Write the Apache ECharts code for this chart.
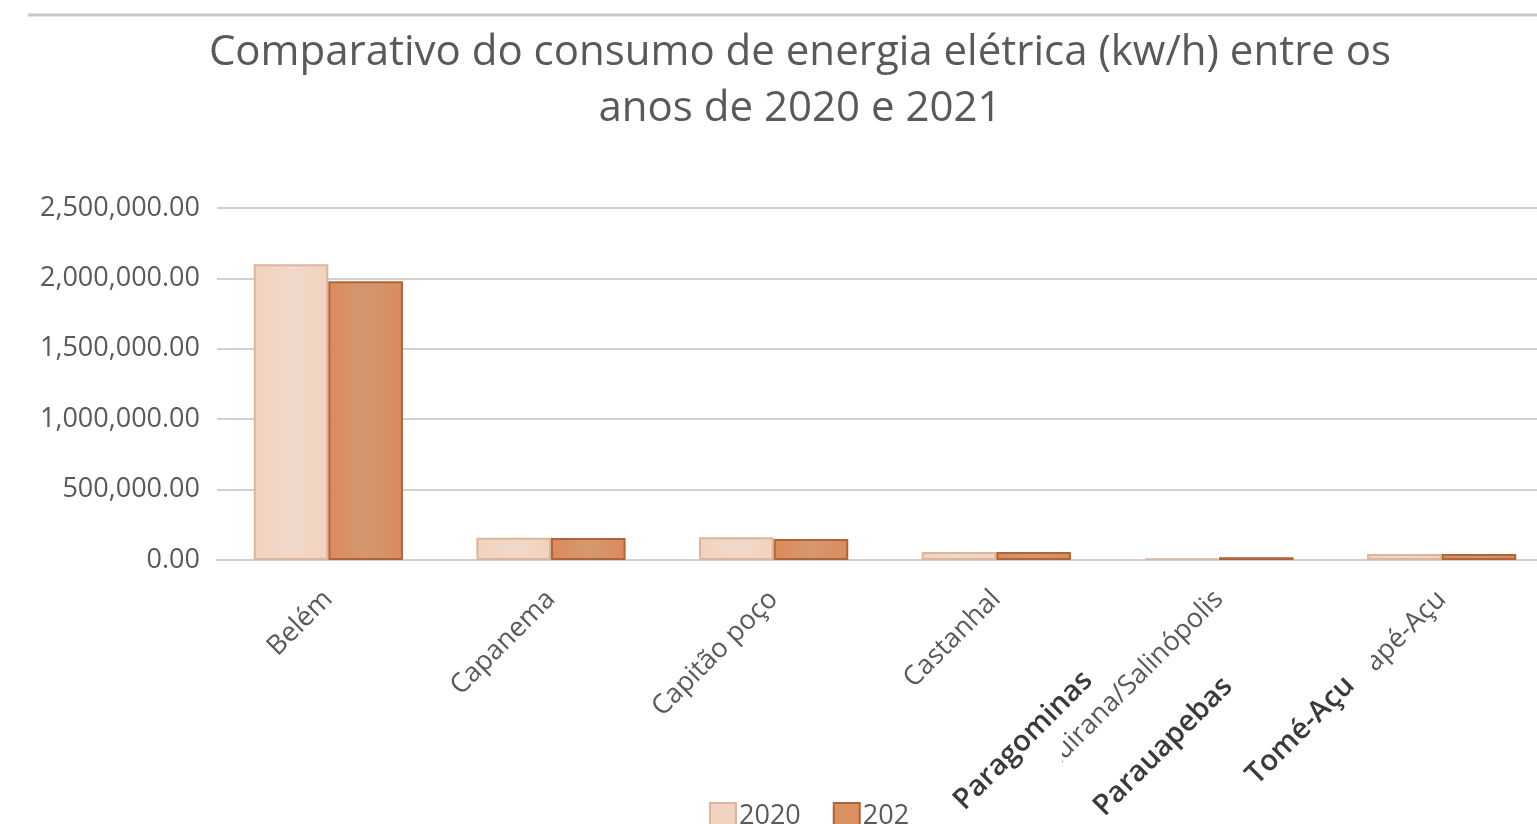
<!DOCTYPE html>
<html>
<head>
<meta charset="utf-8">
<script src="https://cdn.jsdelivr.net/npm/echarts@6/dist/echarts.min.js"></script>
<style>
html,body{margin:0;padding:0;background:#fff;overflow:hidden;width:1537px;height:824px;}
#chart{width:1553px;height:824px;}
</style>
</head>
<body>
<div id="chart"></div>
<script>
var categories = ['Belém', 'Capanema', 'Capitão poço', 'Castanhal', 'Cuirana/Salinópolis', 'Igarapé-Açu'];
var values2020 = [2100000, 158000, 162000, 57000, 12000, 43000];
var values2021 = [1980000, 156000, 150000, 57000, 20000, 43000];
var seriesNames = ['2020', '2021'];
var yTicks = [0, 500000, 1000000, 1500000, 2000000, 2500000];
var overlayLabels = ['Paragominas', 'Parauapebas', 'Tomé-Açu'];
var titleText = 'Comparativo do consumo de energia elétrica (kw/h) entre os\nanos de 2020 e 2021';

var FONT = 'Open Sans';
var GREY = '#595959';

function fmt(v) {
  return v.toLocaleString('en-US', {minimumFractionDigits: 2, maximumFractionDigits: 2});
}

var chart = echarts.init(document.getElementById('chart'));

var c2020 = new echarts.graphic.LinearGradient(0, 0, 1, 0, [
  {offset: 0, color: '#f3d2bd'}, {offset: 0.5, color: '#f0d9cb'}, {offset: 1, color: '#f3d2bd'}
]);
var c2021 = new echarts.graphic.LinearGradient(0, 0, 1, 0, [
  {offset: 0, color: '#dc8a5a'}, {offset: 0.5, color: '#d49872'}, {offset: 1, color: '#dc8a5a'}
]);

var option = {
  backgroundColor: '#ffffff',
  animation: false,
  title: {
    text: titleText,
    left: 795,
    top: 20,
    textAlign: 'center',
    textStyle: {fontFamily: FONT, fontSize: 42, fontWeight: 'normal', color: GREY, lineHeight: 56}
  },
  legend: {
    data: [
      {name: seriesNames[0], itemStyle: {color: '#f2d3bf', borderColor: '#dbb59c', borderWidth: 2}},
      {name: seriesNames[1], itemStyle: {color: '#d8915f', borderColor: '#b0643a', borderWidth: 2}}
    ],
    left: 704,
    top: 797,
    itemWidth: 26,
    itemHeight: 26,
    itemGap: 32,
    icon: 'rect',
    textStyle: {fontFamily: FONT, fontSize: 27, color: GREY, padding: [0, 0, 0, -2]}
  },
  grid: {left: 217, right: 0, top: 208, height: 352, containLabel: false},
  xAxis: {
    type: 'category',
    data: categories,
    axisLine: {lineStyle: {color: '#d0d0d0', width: 2}},
    axisTick: {show: false},
    axisLabel: {
      rotate: 45, margin: 35, interval: 0,
      fontFamily: FONT, fontSize: 27, color: GREY
    }
  },
  yAxis: {
    type: 'value',
    min: yTicks[0],
    max: yTicks[yTicks.length - 1],
    interval: yTicks[1] - yTicks[0],
    axisLine: {show: false},
    axisTick: {show: false},
    splitLine: {lineStyle: {color: '#d0d0d0', width: 2}},
    axisLabel: {
      margin: 17,
      fontFamily: FONT, fontSize: 27, color: GREY,
      formatter: function (v) { return fmt(v); }
    }
  },
  series: [
    {
      name: seriesNames[0], type: 'bar', data: values2020,
      barGap: '0%', barCategoryGap: '33%',
      itemStyle: {color: c2020, borderColor: '#dbb59c', borderWidth: 2}
    },
    {
      name: seriesNames[1], type: 'bar', data: values2021,
      itemStyle: {color: c2021, borderColor: '#b0643a', borderWidth: 2}
    }
  ]
};
chart.setOption(option);

// decorative overlays: top rule, pasted label patches
var overlayStyle = {fontFamily: FONT, fontSize: 29, fontWeight: 600, fill: '#3a3a3a', align: 'right', verticalAlign: 'middle'};
var overlayPos = [[1088, 676], [1228, 682], [1350, 681]];
chart.setOption({
  graphic: [
    {type: 'line', shape: {x1: 28, y1: 15, x2: 1553, y2: 15}, style: {stroke: '#c8c8c8', lineWidth: 3}, z: 100},
    {type: 'rect', shape: {x: 912, y: 722, width: 150, height: 102}, style: {fill: '#ffffff'}, z: 100},
    {type: 'rect', shape: {x: 1240, y: 640, width: 131, height: 160}, style: {fill: '#ffffff'}, z: 100},
    {type: 'text', x: overlayPos[0][0], y: overlayPos[0][1], rotation: Math.PI / 4,
      style: Object.assign({text: overlayLabels[0]}, overlayStyle), z: 101},
    {type: 'text', x: overlayPos[1][0], y: overlayPos[1][1], rotation: Math.PI / 4,
      style: Object.assign({text: overlayLabels[1]}, overlayStyle), z: 101},
    {type: 'text', x: overlayPos[2][0], y: overlayPos[2][1], rotation: Math.PI / 4,
      style: Object.assign({text: overlayLabels[2]}, overlayStyle), z: 101}
  ]
});
</script>
</body>
</html>
